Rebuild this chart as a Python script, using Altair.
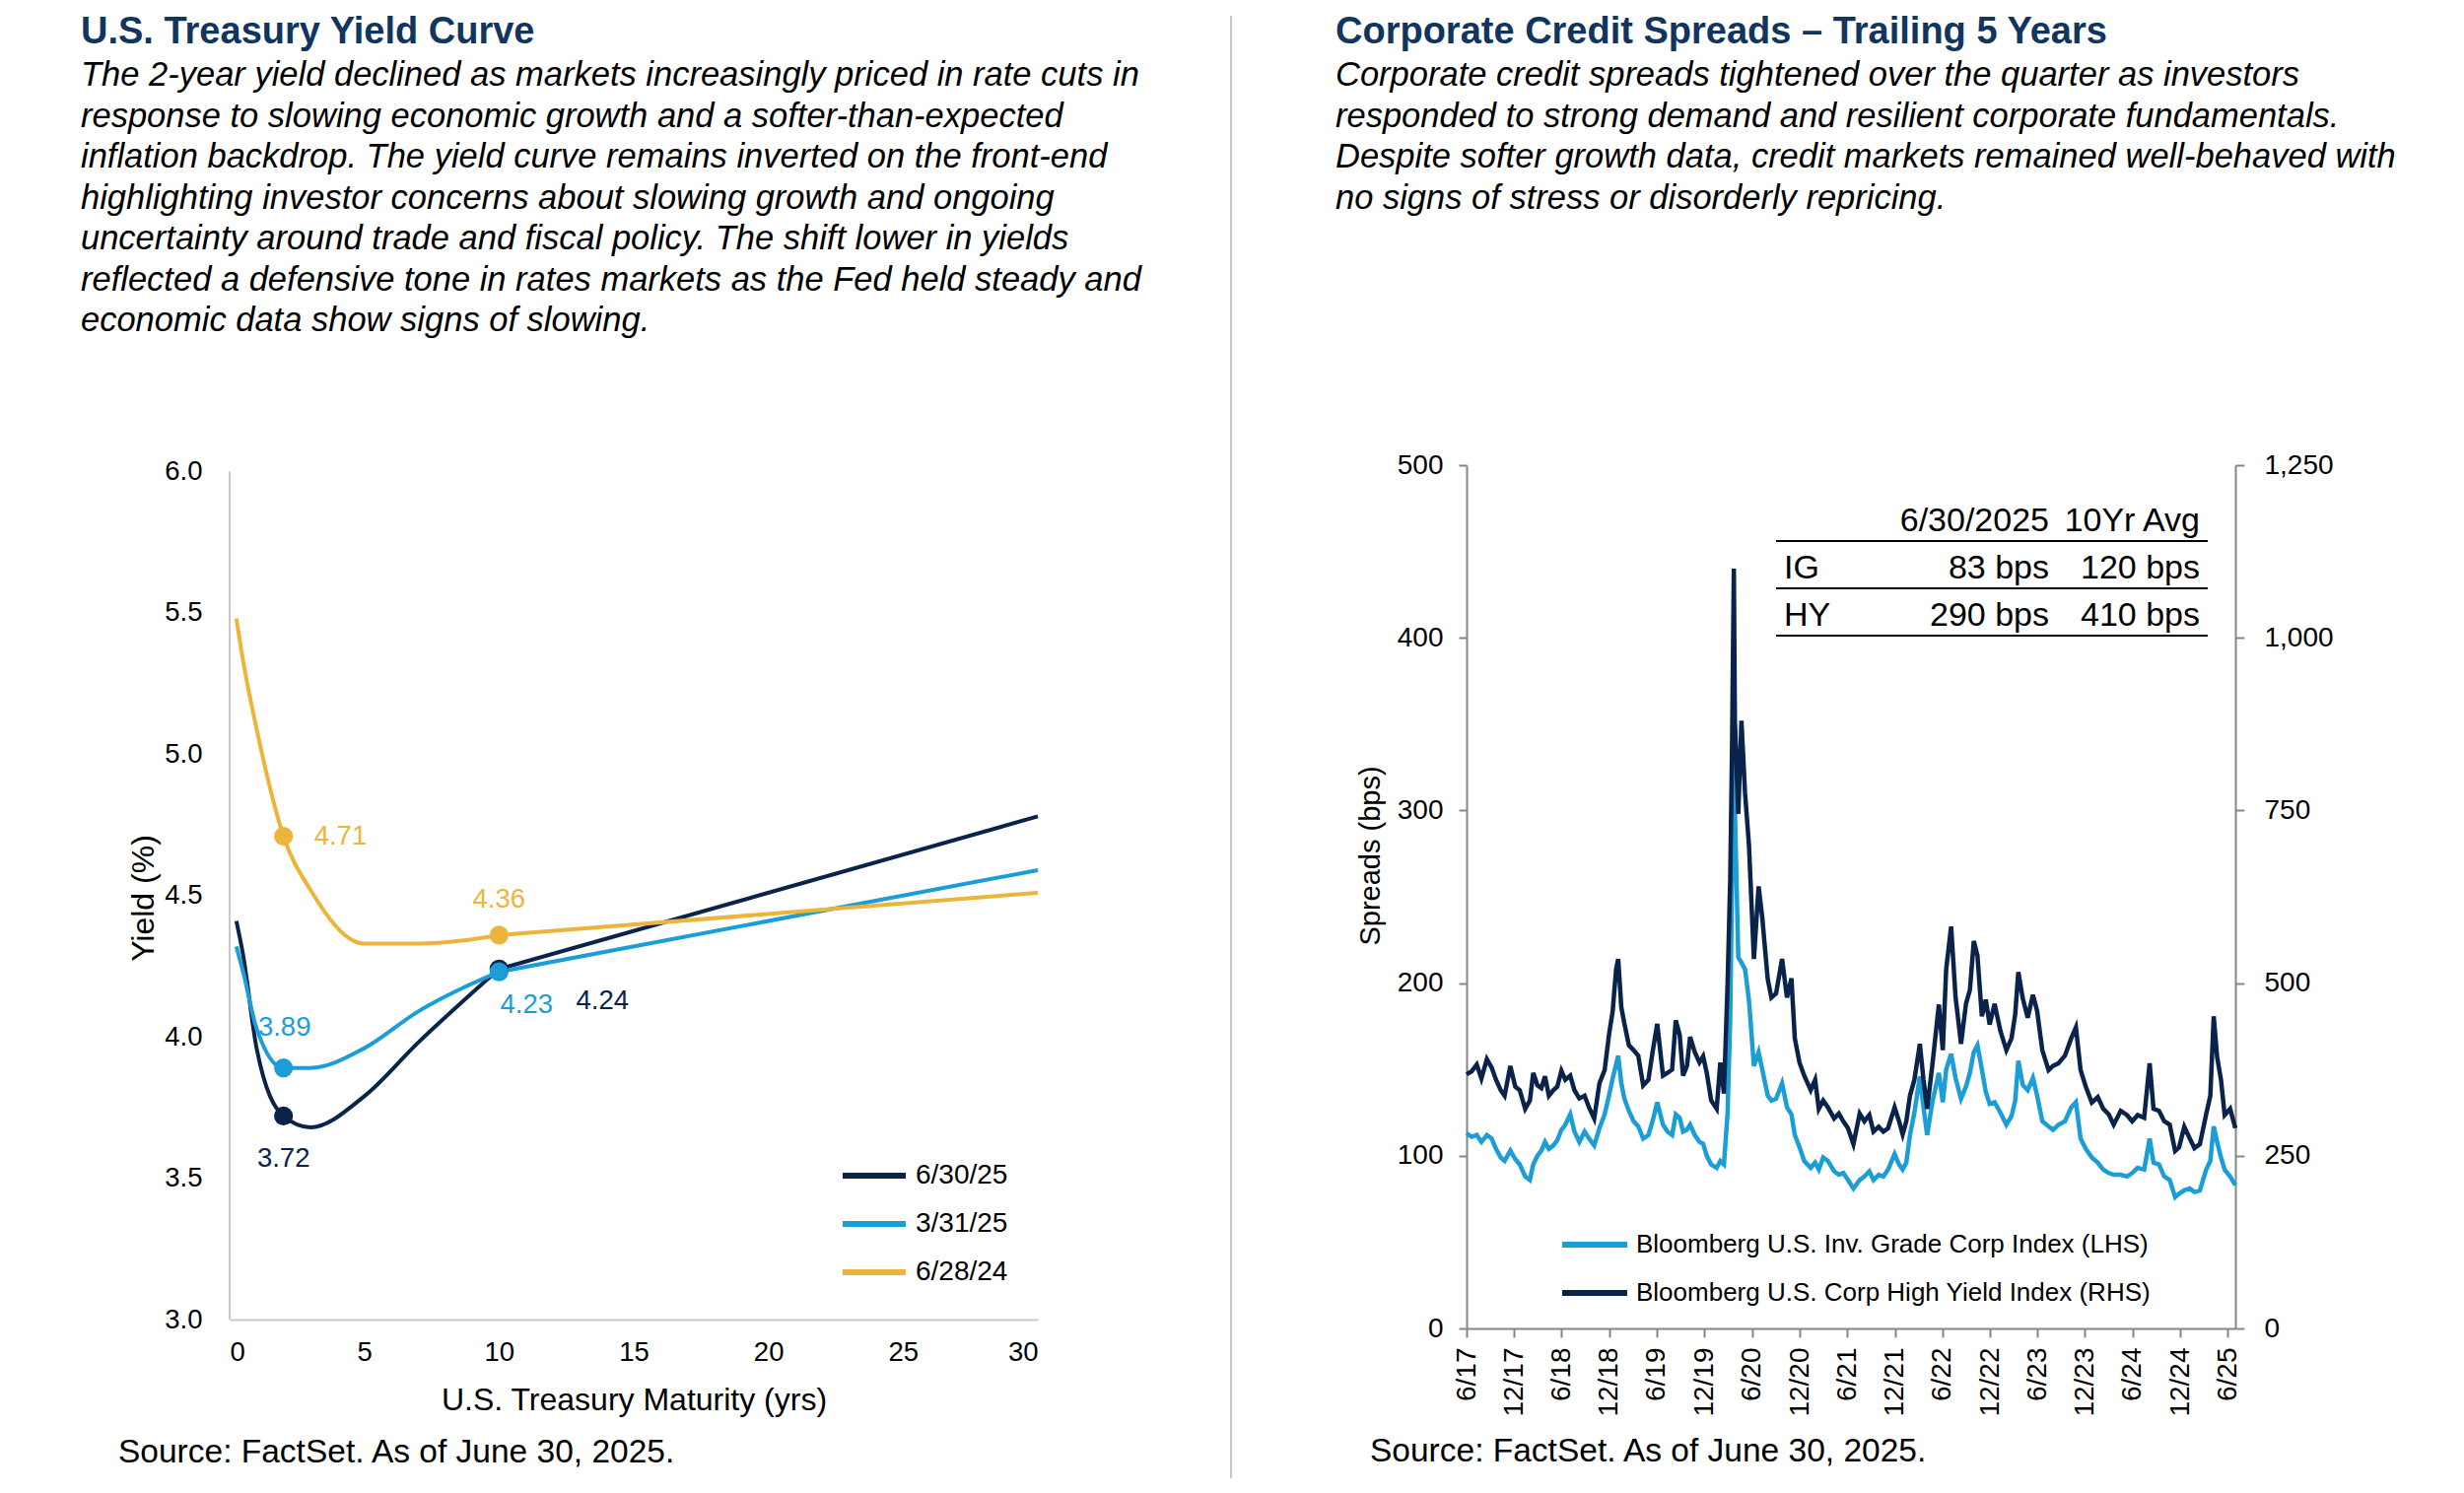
import altair as alt
import pandas as pd

# ---------------- colours / fonts ----------------
DARK = "#0A234B"
LIGHT = "#1B9DD8"
GOLD = "#EDB43C"
TITLE_C = "#11355F"
FONT = "Liberation Sans"

# ---------------- left panel data ----------------
maturity = [0.25, 0.5, 1, 2, 3, 5, 7, 10, 30]
curve_names = ["6/30/25", "3/31/25", "6/28/24"]
yld_jun25 = [4.41, 4.29, 3.96, 3.72, 3.68, 3.79, 3.98, 4.24, 4.78]
yld_mar25 = [4.32, 4.23, 4.03, 3.89, 3.89, 3.96, 4.09, 4.23, 4.59]
yld_jun24 = [5.48, 5.33, 5.09, 4.71, 4.52, 4.33, 4.33, 4.36, 4.51]

label_series = ["6/30/25", "6/30/25", "3/31/25", "3/31/25", "6/28/24", "6/28/24"]
label_maturity = [2, 10, 2, 10, 2, 10]
label_yield = [3.72, 4.24, 3.89, 4.23, 4.71, 4.36]

left_title = "U.S. Treasury Yield Curve"
left_sub = [
    "The 2-year yield declined as markets increasingly priced in rate cuts in",
    "response to slowing economic growth and a softer-than-expected",
    "inflation backdrop. The yield curve remains inverted on the front-end",
    "highlighting investor concerns about slowing growth and ongoing",
    "uncertainty around trade and fiscal policy. The shift lower in yields",
    "reflected a defensive tone in rates markets as the Fed held steady and",
    "economic data show signs of slowing.",
]
source_text = "Source: FactSet. As of June 30, 2025."

# ---------------- right panel data ----------------
dates = [
    "2017-06-01", "2017-06-20", "2017-07-10", "2017-07-28", "2017-08-18", "2017-09-05",
    "2017-09-22", "2017-10-10", "2017-10-25", "2017-11-16", "2017-12-05", "2017-12-22",
    "2018-01-12", "2018-01-30", "2018-02-12", "2018-02-28", "2018-03-15", "2018-03-29",
    "2018-04-13", "2018-04-30", "2018-05-15", "2018-05-31", "2018-06-15", "2018-07-04",
    "2018-07-20", "2018-08-08", "2018-08-28", "2018-09-14", "2018-10-04", "2018-10-24",
    "2018-11-13", "2018-11-30", "2018-12-14", "2018-12-27", "2019-01-04", "2019-01-16",
    "2019-01-28", "2019-02-14", "2019-03-04", "2019-03-22", "2019-04-10", "2019-04-30",
    "2019-05-16", "2019-06-03", "2019-06-25", "2019-07-12", "2019-07-30", "2019-08-13",
    "2019-08-28", "2019-09-10", "2019-09-25", "2019-10-07", "2019-10-25", "2019-11-12",
    "2019-11-26", "2019-12-10", "2019-12-27", "2020-01-17", "2020-01-31", "2020-02-14",
    "2020-02-28", "2020-03-09", "2020-03-16", "2020-03-23", "2020-03-27", "2020-04-09",
    "2020-04-21", "2020-05-05", "2020-05-20", "2020-06-08", "2020-06-26", "2020-07-10",
    "2020-07-31", "2020-08-14", "2020-09-01", "2020-09-24", "2020-10-13", "2020-10-30",
    "2020-11-12", "2020-11-30", "2020-12-18", "2021-01-12", "2021-01-29", "2021-02-12",
    "2021-03-01", "2021-03-19", "2021-04-12", "2021-04-30", "2021-05-17", "2021-06-04",
    "2021-06-25", "2021-07-19", "2021-08-06", "2021-08-25", "2021-09-10", "2021-09-30",
    "2021-10-18", "2021-11-05", "2021-11-30", "2021-12-17", "2021-12-31", "2022-01-14",
    "2022-01-28", "2022-02-14", "2022-03-07", "2022-03-21", "2022-04-04", "2022-04-25",
    "2022-05-19", "2022-06-03", "2022-06-16", "2022-07-05", "2022-07-22", "2022-08-12",
    "2022-08-31", "2022-09-15", "2022-09-30", "2022-10-14", "2022-10-31", "2022-11-15",
    "2022-11-30", "2022-12-19", "2023-01-10", "2023-02-02", "2023-02-22", "2023-03-08",
    "2023-03-20", "2023-04-06", "2023-04-25", "2023-05-15", "2023-05-31", "2023-06-20",
    "2023-07-14", "2023-07-31", "2023-08-21", "2023-09-15", "2023-10-09", "2023-10-27",
    "2023-11-14", "2023-12-04", "2023-12-27", "2024-01-19", "2024-02-09", "2024-03-01",
    "2024-03-20", "2024-04-16", "2024-05-10", "2024-05-30", "2024-06-20", "2024-07-15",
    "2024-08-05", "2024-08-20", "2024-09-10", "2024-09-30", "2024-10-21", "2024-11-11",
    "2024-11-26", "2024-12-16", "2025-01-06", "2025-01-24", "2025-02-14", "2025-03-10",
    "2025-03-26", "2025-04-08", "2025-04-21", "2025-05-06", "2025-05-20", "2025-06-10",
    "2025-06-30",
]
ig_spread = [
    113, 111, 112, 108, 112, 110,
    104, 99, 97, 103, 98, 95,
    88, 86, 95, 100, 103, 108,
    104, 106, 109, 115, 118, 124,
    114, 108, 114, 110, 106, 116,
    124, 135, 145, 153, 158, 142,
    133, 126, 120, 117, 110, 112,
    120, 131, 118, 114, 112, 124,
    122, 114, 115, 118, 112, 108,
    107, 100, 95, 93, 97, 95,
    125, 180, 260, 365, 300, 215,
    212, 208, 190, 152, 160, 150,
    135, 132, 133, 142, 128, 124,
    112, 105, 97, 93, 96, 92,
    99, 97, 91, 89, 90, 86,
    81, 86, 88, 91, 86, 89,
    88, 92, 101, 95, 92, 96,
    112, 125, 146, 128, 112, 132,
    148, 131, 150, 159, 145, 133,
    140, 148, 160, 164, 150, 137,
    130, 131, 125, 118, 123, 132,
    155, 141, 138, 145, 135, 120,
    117, 115, 118, 120, 128, 131,
    110, 104, 99, 96, 92, 90,
    89, 89, 88, 90, 93, 92,
    110, 96, 95, 88, 86, 76,
    78, 80, 81, 79, 80, 92,
    97, 117, 108, 99, 92, 88,
    83,
]
hy_spread = [
    368, 372, 382, 362, 390, 378,
    360, 345, 337, 380, 350, 345,
    318, 330, 370, 352, 348, 365,
    337, 345, 350, 373, 360, 366,
    345, 333, 337, 320, 304, 355,
    374, 426, 460, 520, 535, 465,
    441, 410, 403, 395, 352, 360,
    400, 441, 366, 370, 375, 446,
    425, 366, 380, 422, 400, 385,
    394, 370, 330, 318, 385, 340,
    500, 650, 840, 1100, 880, 745,
    880, 775, 700, 535, 640, 595,
    506, 479, 485, 535, 479, 507,
    420, 385, 366, 345, 360, 318,
    330, 320, 304, 311, 300, 290,
    267, 311, 300, 309, 285, 292,
    285, 290, 320, 300, 281, 300,
    337, 360, 412, 360, 318, 385,
    469, 403, 520, 582, 480, 412,
    470, 490, 561, 540, 452, 476,
    440, 470, 431, 403, 420, 455,
    516, 478, 450, 483, 460, 403,
    374, 380, 384, 395, 420, 436,
    374, 350, 327, 335, 318, 310,
    295, 315, 309, 300, 309, 305,
    384, 318, 315, 300, 295, 257,
    262, 292, 275, 261, 267, 310,
    337, 452, 393, 360, 309, 318,
    290,
]
ig_name = "Bloomberg U.S. Inv. Grade Corp Index (LHS)"
hy_name = "Bloomberg U.S. Corp High Yield Index (RHS)"
tick_years = [2017, 2017, 2018, 2018, 2019, 2019, 2020, 2020, 2021, 2021,
              2022, 2022, 2023, 2023, 2024, 2024, 2025]
tick_months = [6, 12, 6, 12, 6, 12, 6, 12, 6, 12, 6, 12, 6, 12, 6, 12, 6]

right_title = "Corporate Credit Spreads \u2013 Trailing 5 Years"
right_sub = [
    "Corporate credit spreads tightened over the quarter as investors",
    "responded to strong demand and resilient corporate fundamentals.",
    "Despite softer growth data, credit markets remained well-behaved with",
    "no signs of stress or disorderly repricing.",
]
table_cols = ["6/30/2025", "10Yr Avg"]
table_rows = ["IG", "HY"]
table_now = ["83 bps", "290 bps"]
table_avg = ["120 bps", "410 bps"]

# both plot areas share the same top edge (page y ~472)
# ================= LEFT PANEL =================
LW, LH = 820, 867
Y_TOP = 6.0 + 6.5 / 286.8   # a few px of headroom above the 6.0 tick
curve_df = pd.DataFrame(
    [{"curve": n, "maturity": m, "yld": y}
     for n, ys in zip(curve_names, [yld_jun25, yld_mar25, yld_jun24])
     for m, y in zip(maturity, ys)]
)
label_df = pd.DataFrame({
    "idx": list(range(len(label_series))),
    "curve": label_series,
    "maturity": label_maturity,
    "yld": label_yield,
    "txt": [f"{v:.2f}" for v in label_yield],
})
curve_scale = alt.Scale(domain=curve_names, range=[DARK, LIGHT, GOLD])
series_color = dict(zip(curve_names, [DARK, LIGHT, GOLD]))

lx = alt.X("maturity:Q", scale=alt.Scale(domain=[0, 30], nice=False),
           axis=alt.Axis(values=list(range(0, 31, 5)), title="U.S. Treasury Maturity (yrs)",
                         grid=False, ticks=False, tickSize=0, labelPadding=19,
                         labelFontSize=27.5, titleFontSize=32, titleFontWeight="normal",
                         titleY=81, titleBaseline="middle",
                         domainColor="#C8C8C8", domainWidth=2))
ly = alt.Y("yld:Q", scale=alt.Scale(domain=[3, Y_TOP], nice=False, zero=False),
           axis=alt.Axis(values=[3.0, 3.5, 4.0, 4.5, 5.0, 5.5, 6.0], format=".1f",
                         title="Yield (%)", grid=False, ticks=False, tickSize=0, domain=False,
                         labelPadding=28, labelFontSize=27.5, titleFontSize=32,
                         titleFontWeight="normal", titleAngle=270, titleX=-88,
                         titleY=439, titleBaseline="middle"))

legend_left = alt.Legend(title=None, orient="none", legendX=619, legendY=686,
                         symbolType="stroke", symbolSize=4096, symbolStrokeWidth=6,
                         labelFontSize=28, labelOffset=7, rowPadding=0, padding=0,
                         labelLimit=600, labelColor="black")

yaxis_line = alt.Chart(pd.DataFrame({"a": [0]})).mark_rule(
    color="#C8C8C8", strokeWidth=2
).encode(x=alt.value(0), y=alt.datum(3.0), y2=alt.datum(6.0))

curves_short = alt.Chart(curve_df).transform_filter(alt.datum.maturity <= 10).mark_line(
    strokeWidth=4, interpolate="monotone"
).encode(
    x=lx, y=ly,
    color=alt.Color("curve:N", scale=curve_scale, legend=legend_left),
)
curves_long = alt.Chart(curve_df).transform_filter(alt.datum.maturity >= 10).mark_line(
    strokeWidth=4
).encode(
    x="maturity:Q", y="yld:Q",
    color=alt.Color("curve:N", scale=curve_scale, legend=legend_left),
)
dots = alt.Chart(label_df).mark_circle(size=370, opacity=1).encode(
    x="maturity:Q", y="yld:Q",
    color=alt.Color("curve:N", scale=curve_scale, legend=None),
)
label_style = [(0, 43.5, "center"), (105, 33, "center"), (1, -41, "center"),
               (28, 34, "center"), (31, 0, "left"), (0, -36, "center")]
label_layers = []
for i, (ddx, ddy, al) in enumerate(label_style):
    label_layers.append(
        alt.Chart(label_df).transform_filter(alt.datum.idx == i).mark_text(
            dx=ddx, dy=ddy, align=al, baseline="middle", fontSize=27.5,
            color=series_color[label_series[i]]
        ).encode(x="maturity:Q", y="yld:Q", text="txt:N")
    )

left_title_l = alt.Chart(pd.DataFrame({"t": [left_title]})).mark_text(
    align="left", baseline="alphabetic", fontSize=38, fontWeight="bold", color=TITLE_C
).encode(x=alt.value(-151), y=alt.value(-428), text="t:N")
left_sub_l = alt.Chart(pd.DataFrame({"t": ["\n".join(left_sub)]})).mark_text(
    align="left", baseline="alphabetic", fontSize=34.5, fontStyle="italic",
    lineBreak="\n", lineHeight=41.5, color="black"
).encode(x=alt.value(-151), y=alt.value(-385), text="t:N")
left_src = alt.Chart(pd.DataFrame({"t": [source_text]})).mark_text(
    align="left", baseline="alphabetic", fontSize=33.5, color="black"
).encode(x=alt.value(-113), y=alt.value(1012), text="t:N")
separator = alt.Chart(pd.DataFrame({"a": [0]})).mark_rule(
    color="#C8C8C8", strokeWidth=2
).encode(x=alt.value(1016), y=alt.value(-456), y2=alt.value(1028))

left = alt.layer(yaxis_line, curves_short, curves_long, dots, *label_layers,
                 left_title_l, left_sub_l, left_src, separator).properties(width=LW, height=LH)

# ================= RIGHT PANEL =================
RW, RH = 780, 876
ig_df = pd.DataFrame({"date": dates, "value": ig_spread, "index": ig_name})
hy_df = pd.DataFrame({"date": dates, "value": hy_spread, "index": hy_name})
AX = "#868686"

rx = alt.X("date:T",
           scale=alt.Scale(type="utc",
                           domain=[alt.DateTime(year=2017, month=6, date=1, utc=True),
                                   alt.DateTime(year=2025, month=6, date=30, utc=True)],
                           nice=False),
           axis=alt.Axis(values=[alt.DateTime(year=y, month=m, date=1, utc=True)
                                 for y, m in zip(tick_years, tick_months)],
                         format="%-m/%y", labelAngle=270, title=None, grid=False,
                         tickSize=9, tickWidth=2, tickColor=AX, domainColor=AX,
                         domainWidth=2, labelPadding=10, labelFontSize=28))
color_enc = alt.Color("index:N", scale=alt.Scale(domain=[ig_name, hy_name], range=[LIGHT, DARK]),
                      legend=alt.Legend(title=None, orient="none", legendX=94, legendY=755,
                                        symbolType="stroke", symbolSize=4356,
                                        symbolStrokeWidth=6, labelFontSize=26, labelOffset=6,
                                        rowPadding=0, padding=0, labelLimit=800,
                                        labelColor="black"))

ig_line = alt.Chart(ig_df).mark_line(strokeWidth=4.5).encode(
    x=rx,
    y=alt.Y("value:Q", scale=alt.Scale(domain=[0, 500], nice=False),
            axis=alt.Axis(orient="left", values=[0, 100, 200, 300, 400, 500],
                          title="Spreads (bps)", grid=False, tickSize=8, tickWidth=2,
                          tickColor=AX, domainColor=AX, domainWidth=2, labelPadding=16,
                          labelFontSize=28, titleFontSize=29, titleFontWeight="normal",
                          titleAngle=270, titleX=-98, titleY=396, titleBaseline="middle")),
    color=color_enc,
)
hy_line = alt.Chart(hy_df).mark_line(strokeWidth=4.5).encode(
    x=rx,
    y=alt.Y("value:Q", scale=alt.Scale(domain=[0, 1250], nice=False),
            axis=alt.Axis(orient="right", values=[0, 250, 500, 750, 1000, 1250],
                          format=",.0f", title=None, grid=False, tickSize=9, tickWidth=2,
                          tickColor=AX, domainColor=AX, domainWidth=2, labelPadding=20,
                          labelFontSize=28)),
    color=color_enc,
)
lines = alt.layer(ig_line, hy_line).resolve_scale(y="independent")

right_title_l = alt.Chart(pd.DataFrame({"t": [right_title]})).mark_text(
    align="left", baseline="alphabetic", fontSize=38, fontWeight="bold", color=TITLE_C
).encode(x=alt.value(-133), y=alt.value(-428), text="t:N")
right_sub_l = alt.Chart(pd.DataFrame({"t": ["\n".join(right_sub)]})).mark_text(
    align="left", baseline="alphabetic", fontSize=34.5, fontStyle="italic",
    lineBreak="\n", lineHeight=41.5, color="black"
).encode(x=alt.value(-133), y=alt.value(-385), text="t:N")
right_src = alt.Chart(pd.DataFrame({"t": [source_text]})).mark_text(
    align="left", baseline="alphabetic", fontSize=33.5, color="black"
).encode(x=alt.value(-98), y=alt.value(1011), text="t:N")

# inset table
tbl_layers = []
col_right = [591, 744]
for j, h in enumerate(table_cols):
    tbl_layers.append(alt.Chart(pd.DataFrame({"t": [h]})).mark_text(
        align="right", baseline="alphabetic", fontSize=34, color="black"
    ).encode(x=alt.value(col_right[j]), y=alt.value(67), text="t:N"))
for r, (name, now, avg) in enumerate(zip(table_rows, table_now, table_avg)):
    yb = 115 + 48 * r
    tbl_layers.append(alt.Chart(pd.DataFrame({"t": [name]})).mark_text(
        align="left", baseline="alphabetic", fontSize=34, color="black"
    ).encode(x=alt.value(322), y=alt.value(yb), text="t:N"))
    for j, v in enumerate([now, avg]):
        tbl_layers.append(alt.Chart(pd.DataFrame({"t": [v]})).mark_text(
            align="right", baseline="alphabetic", fontSize=34, color="black"
        ).encode(x=alt.value(col_right[j]), y=alt.value(yb), text="t:N"))
for k in range(3):
    tbl_layers.append(alt.Chart(pd.DataFrame({"a": [0]})).mark_rule(
        color="black", strokeWidth=2
    ).encode(x=alt.value(314), x2=alt.value(752), y=alt.value(77 + 48 * k)))

right = alt.layer(lines, right_title_l, right_sub_l, right_src, *tbl_layers).properties(
    width=RW, height=RH)

chart = alt.hconcat(left, right, spacing=105).resolve_scale(color="independent").properties(
    padding={"left": 74, "top": 6, "right": 0, "bottom": 0}
).configure(font=FONT).configure_view(stroke=None).configure_axis(
    labelColor="black", titleColor="black", labelFont=FONT, titleFont=FONT
).configure_legend(labelFont=FONT)

chart.save("out.html", embed_options={"renderer": "svg", "actions": False})
